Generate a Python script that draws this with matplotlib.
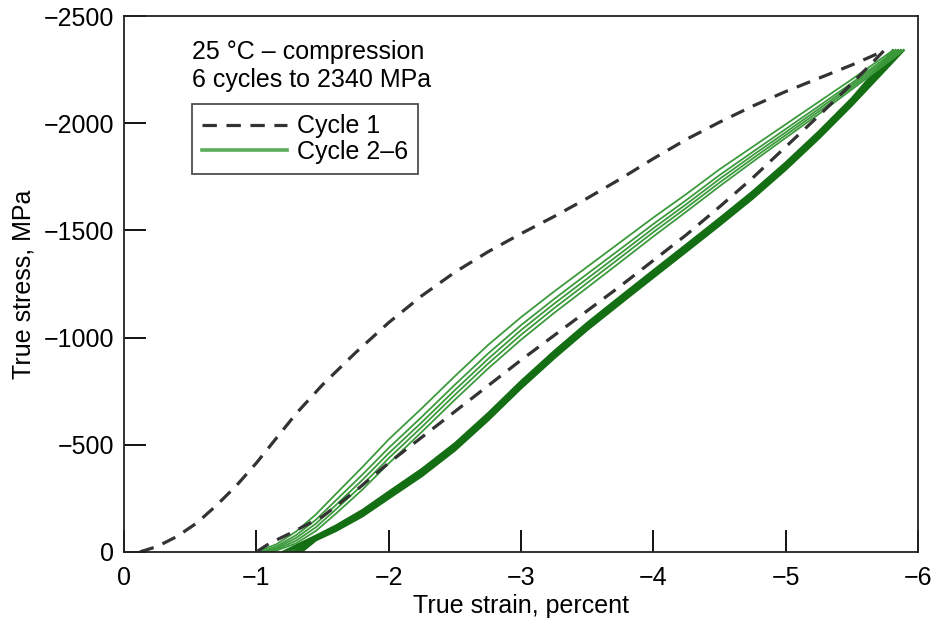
"""Compression cycling at 25 C: true stress vs true strain, cycles 1-6."""

import matplotlib

matplotlib.use("Agg")
import matplotlib.pyplot as plt  # noqa: E402

plt.rcParams["font.family"] = ["Liberation Sans", "DejaVu Sans"]

# cycle 1 (dashed): loading branch then unloading branch
c1_load_strain = [-0.12, -0.25, -0.4, -0.55, -0.7, -0.85, -1.0, -1.15, -1.3, -1.5,
                  -1.75, -2.0, -2.25, -2.5, -2.75, -3.0, -3.25, -3.5, -3.75, -4.0,
                  -4.25, -4.5, -4.75, -5.0, -5.25, -5.5, -5.74]
c1_load_stress = [0, -25, -72, -135, -218, -310, -415, -530, -645, -780,
                  -930, -1070, -1195, -1305, -1400, -1485, -1565, -1650, -1740, -1835,
                  -1925, -2005, -2080, -2148, -2210, -2272, -2337]
c1_unload_strain = [-5.74, -5.5, -5.25, -5.0, -4.75, -4.5, -4.25, -4.0, -3.75, -3.5,
                    -3.25, -3.0, -2.75, -2.5, -2.25, -2.0, -1.75, -1.5, -1.25, -1.1, -1.0]
c1_unload_stress = [-2337, -2185, -2035, -1890, -1745, -1610, -1480, -1360, -1240, -1125,
                    -1010, -895, -775, -655, -535, -415, -285, -165, -85, -40, 0]

# cycles 2-6: each loop starts at zero stress, goes up to its peak and back down
load_start_strain = [-1.0, -1.03, -1.06, -1.09, -1.12]
peak_strain = [-5.81, -5.83, -5.85, -5.87, -5.89]
peak_stress = -2340
unload_end_strain = [-1.20, -1.24, -1.28, -1.31, -1.34]

load_strain = [-1.15, -1.3, -1.45, -1.6, -1.8, -2.0, -2.25, -2.5, -2.75, -3.0,
               -3.25, -3.5, -3.75, -4.0, -4.25, -4.5, -4.75, -5.0, -5.25, -5.5]
load_stress = [
    [-35, -95, -175, -270, -395, -525, -670, -820, -965, -1095,
     -1215, -1330, -1445, -1560, -1670, -1785, -1890, -1995, -2100, -2205],
    [-25, -78, -150, -240, -360, -485, -630, -780, -925, -1058,
     -1180, -1297, -1413, -1530, -1642, -1758, -1866, -1973, -2080, -2188],
    [-18, -65, -132, -218, -335, -460, -605, -755, -900, -1035,
     -1158, -1275, -1392, -1510, -1623, -1740, -1850, -1958, -2067, -2178],
    [-12, -52, -115, -198, -312, -437, -583, -733, -878, -1013,
     -1137, -1255, -1373, -1492, -1606, -1723, -1835, -1945, -2055, -2168],
    [-6, -40, -98, -178, -290, -413, -560, -710, -855, -990,
     -1115, -1233, -1352, -1472, -1588, -1706, -1820, -1932, -2043, -2158],
]

unload_strain = [-5.5, -5.25, -5.0, -4.75, -4.5, -4.25, -4.0, -3.75, -3.5, -3.25,
                 -3.0, -2.75, -2.5, -2.25, -2.0, -1.8, -1.6, -1.45]
unload_stress = [
    [-2116, -1961, -1816, -1681, -1556, -1434, -1313, -1191, -1068, -936,
     -796, -646, -506, -386, -280, -194, -122, -75],
    [-2108, -1953, -1808, -1673, -1548, -1426, -1305, -1183, -1060, -928,
     -788, -638, -498, -378, -272, -187, -116, -70],
    [-2100, -1945, -1800, -1665, -1540, -1418, -1297, -1175, -1052, -920,
     -780, -630, -490, -370, -265, -180, -110, -65],
    [-2092, -1937, -1792, -1657, -1532, -1410, -1289, -1167, -1044, -912,
     -772, -622, -482, -362, -258, -173, -104, -60],
    [-2084, -1929, -1784, -1649, -1524, -1402, -1281, -1159, -1036, -904,
     -764, -614, -474, -354, -250, -166, -98, -55],
]

x_ticks = [0, -1, -2, -3, -4, -5, -6]
y_ticks = [0, -500, -1000, -1500, -2000, -2500]

green = "#3c9a3c"
dark_green = "#146e14"
gray = "#333333"

fig = plt.figure(figsize=(9.33, 6.18), dpi=100)
ax = fig.add_axes([0.133, 0.107, 0.851, 0.867])

for i in range(len(unload_stress)):
    xs = [peak_strain[i]] + unload_strain + [unload_end_strain[i]]
    ys = [peak_stress] + unload_stress[i] + [0]
    ax.plot(xs, ys, color=dark_green, lw=1.8, solid_joinstyle="round")
for i in range(len(load_stress)):
    xs = [load_start_strain[i]] + load_strain + [peak_strain[i]]
    ys = [0] + load_stress[i] + [peak_stress]
    ax.plot(xs, ys, color=green, lw=1.3, solid_joinstyle="round")

dash_kw = dict(color=gray, lw=2.3, dashes=(4.5, 3.0))
ax.plot(c1_load_strain, c1_load_stress, **dash_kw)
ax.plot(c1_unload_strain, c1_unload_stress, **dash_kw)

# legend proxies
h1, = ax.plot([], [], label="Cycle 1", **dash_kw)
h2, = ax.plot([], [], color="#5aae5a", lw=2.6, label="Cycle 2\u20136")

ax.set_xlim(0, -6)
ax.set_ylim(0, -2500)
ax.set_xticks(x_ticks)
ax.set_yticks(y_ticks)
ax.tick_params(direction="in", length=16, width=1.3, labelsize=18, pad=7)
ax.tick_params(axis="x", pad=10)
for s in ax.spines.values():
    s.set_linewidth(1.3)
    s.set_color("#222222")

ax.set_xlabel("True strain, percent", fontsize=18, labelpad=3)
ax.set_ylabel("True stress, MPa", fontsize=18, labelpad=6)

ax.text(0.085, 0.955, "25 \u00b0C \u2013 compression\n6 cycles to 2340 MPa",
        transform=ax.transAxes, fontsize=18, va="top", ha="left", linespacing=1.2)

leg = ax.legend(handles=[h1, h2], loc="upper left", bbox_to_anchor=(0.085, 0.835),
                fontsize=18, frameon=True, fancybox=False, edgecolor="#222222",
                handlelength=3.4, handletextpad=0.4, borderpad=0.4,
                labelspacing=0.05, borderaxespad=0)
leg.get_frame().set_linewidth(1.3)

fig.savefig("out.png", dpi=100)
plt.close(fig)
